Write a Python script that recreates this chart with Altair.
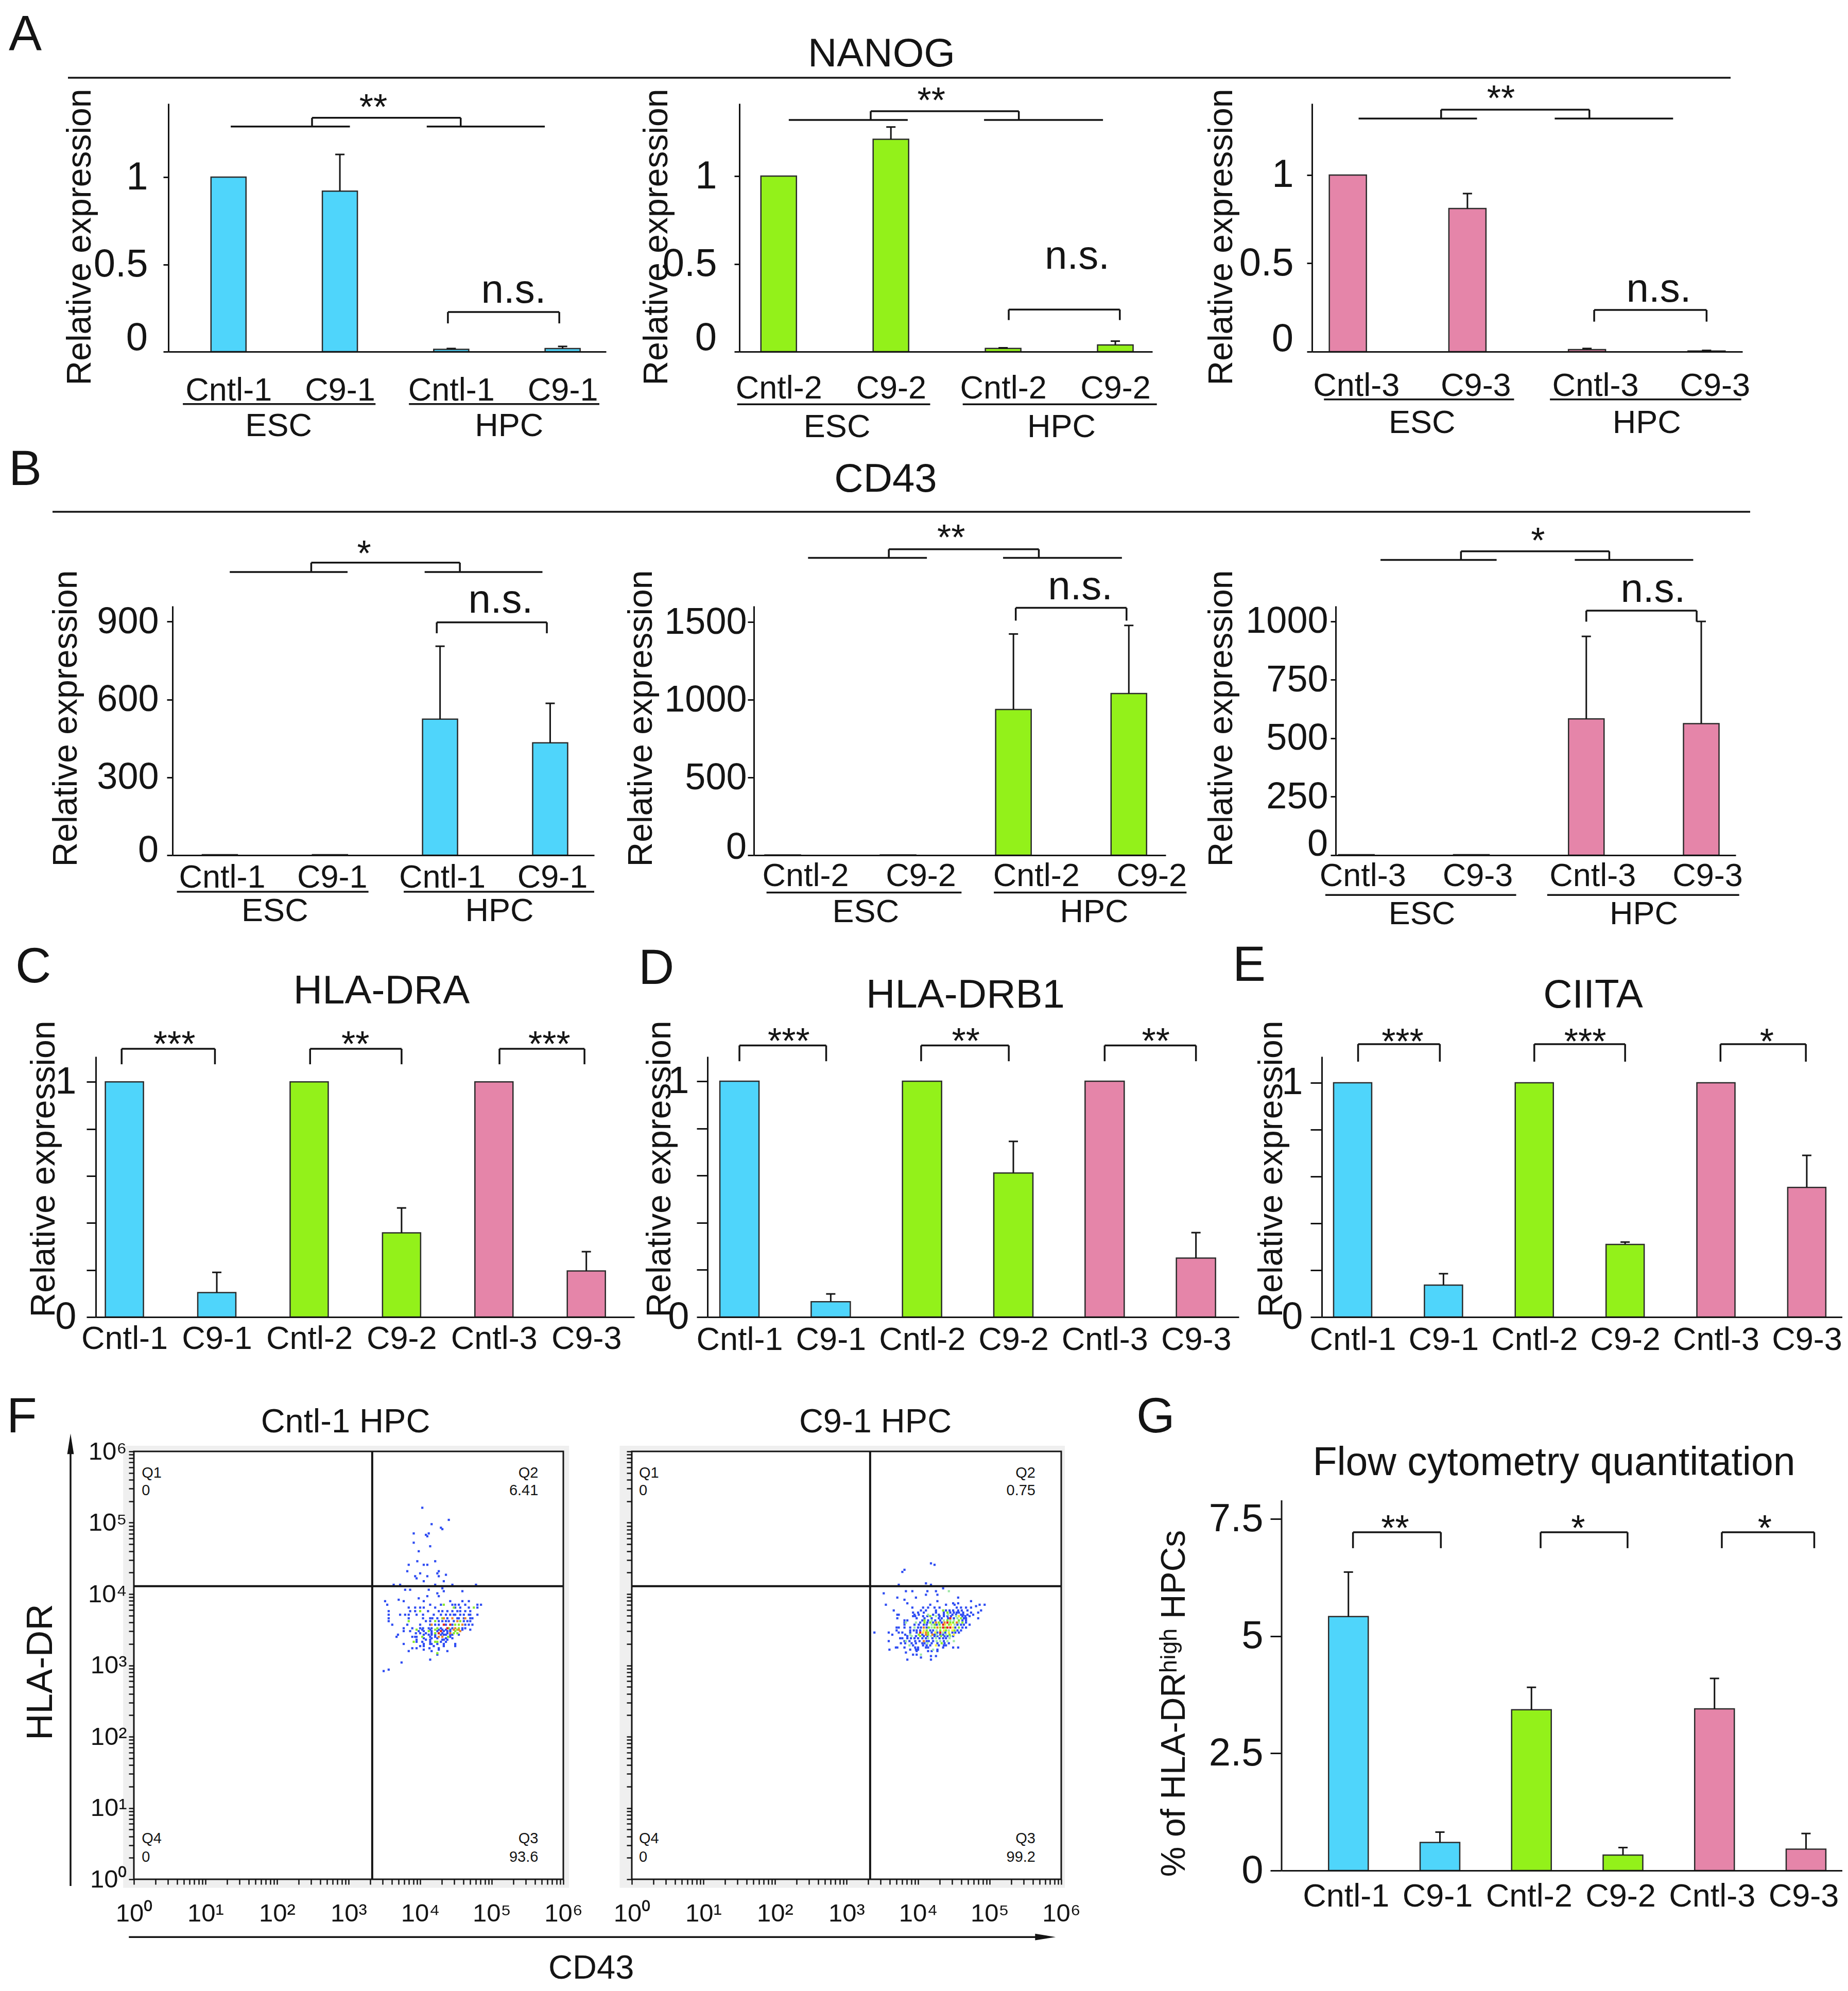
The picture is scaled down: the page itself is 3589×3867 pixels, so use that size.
import math
import altair as alt
import pandas as pd

FONT = "Liberation Sans, Arial, Helvetica, sans-serif"
INK = "#141414"
BLUE, GREEN, PINK = "#4fd5fb", "#93f11a", "#e585a9"

# ---------------- category labels ----------------
LAB_1 = ["Cntl-1", "C9-1", "Cntl-1", "C9-1"]
LAB_2 = ["Cntl-2", "C9-2", "Cntl-2", "C9-2"]
LAB_3 = ["Cntl-3", "C9-3", "Cntl-3", "C9-3"]
LAB_6 = ["Cntl-1", "C9-1", "Cntl-2", "C9-2", "Cntl-3", "C9-3"]

# ---------------- A: NANOG (relative expression) ----------------
NANOG_1 = [1.0, 0.92, 0.013, 0.018]
NANOG_1_ERR = [0.0, 0.21, 0.005, 0.012]
NANOG_2 = [1.0, 1.21, 0.018, 0.038]
NANOG_2_ERR = [0.0, 0.07, 0.004, 0.022]
NANOG_3 = [1.0, 0.81, 0.012, 0.004]
NANOG_3_ERR = [0.0, 0.085, 0.006, 0.003]

# ---------------- B: CD43 (relative expression) ----------------
CD43_1 = [2, 2, 524, 433]
CD43_1_ERR = [0, 0, 281, 152]
CD43_2 = [2, 2, 937, 1040]
CD43_2_ERR = [0, 0, 486, 438]
CD43_3 = [2, 2, 583, 563]
CD43_3_ERR = [0, 0, 353, 437]

# ---------------- C / D / E ----------------
HLA_DRA = [1.0, 0.104, 1.0, 0.358, 1.0, 0.196]
HLA_DRA_ERR = [0, 0.086, 0, 0.106, 0, 0.082]
HLA_DRB1 = [1.0, 0.065, 1.0, 0.611, 1.0, 0.25]
HLA_DRB1_ERR = [0, 0.033, 0, 0.134, 0, 0.108]
CIITA = [1.0, 0.136, 1.0, 0.31, 1.0, 0.553]
CIITA_ERR = [0, 0.049, 0, 0.01, 0, 0.137]

# ---------------- G: % HLA-DR high HPCs ----------------
FLOW_PCT = [5.42, 0.60, 3.43, 0.33, 3.45, 0.455]
FLOW_PCT_ERR = [0.95, 0.22, 0.48, 0.16, 0.65, 0.335]

# ---------------- F: flow cytometry (log10 units) ----------------
CNTL_QUAD = ["0", "6.41", "0", "93.6"]   # Q1, Q2, Q4, Q3
C9_QUAD = ["0", "0.75", "0", "99.2"]
GATE_CD43 = 3.33
GATE_HLADR = 4.11
# rows: (log10 HLA-DR, [log10 CD43 ...], density level per event)
CNTL_EVENTS = [
    (5.21, [4.03], "b"), (5.04, [4.40], "b"), (4.98, [4.16], "b"), (4.93, [4.29], "b"),
    (4.91, [4.31], "b"), (4.85, [3.91, 4.12], "bb"), (4.83, [4.08], "b"), (4.81, [4.10], "b"),
    (4.72, [3.91], "b"), (4.67, [4.14], "b"), (4.60, [3.98], "b"), (4.46, [3.96, 4.21], "bb"),
    (4.41, [3.84, 4.05, 4.10], "bbb"), (4.32, [3.82, 4.26], "bb"), (4.29, [4.00, 4.24], "bb"),
    (4.27, [4.36], "b"), (4.25, [3.93, 4.10, 4.26], "bbb"), (4.22, [3.95], "b"),
    (4.18, [4.05, 4.33], "bb"), (4.13, [3.63, 3.72, 4.21, 4.45, 4.78], "bbbbb"),
    (4.08, [4.31], "b"), (4.06, [3.79, 3.86, 4.12], "bbb"), (4.04, [4.33, 4.59], "bb"),
    (4.01, [4.24], "b"), (3.97, [4.10, 4.26], "bb"), (3.94, [3.98], "b"), (3.92, [3.70], "b"),
    (3.90, [3.51, 3.77, 4.05, 4.42, 4.59, 4.68], "bbbbbb"),
    (3.85, [3.54, 4.14, 4.29, 4.33, 4.45, 4.49, 4.54, 4.63, 4.80, 4.85], "bbbgbbbbbb"),
    (3.81, [3.84, 3.93, 4.00, 4.05, 4.21, 4.47, 4.49, 4.56, 4.68, 4.75, 4.80], "bbbbbgbbbgb"),
    (3.76, [3.56, 3.86, 3.93, 4.00, 4.11, 4.26, 4.31, 4.38, 4.45, 4.52, 4.56, 4.63, 4.70], "bbbgbbbbbbbbb"),
    (3.71, [3.56, 3.72, 3.79, 3.84, 3.95, 4.04, 4.19, 4.29, 4.36, 4.42, 4.47, 4.49, 4.56, 4.61, 4.68, 4.70, 4.80], "bbbbbbbbbbbbbbbbb"),
    (3.66, [3.56, 3.84, 4.04, 4.14, 4.17, 4.24, 4.31, 4.33, 4.38, 4.45, 4.52, 4.54, 4.61, 4.63, 4.70, 4.73], "bbbbbbgobobbbobb"),
    (3.62, [3.56, 3.84, 4.08, 4.14, 4.21, 4.26, 4.31, 4.36, 4.40, 4.47, 4.52, 4.56, 4.61, 4.66, 4.70], "bgbbgbbbbbogbbb"),
    (3.57, [3.61, 3.82, 4.00, 4.14, 4.16, 4.21, 4.26, 4.33, 4.36, 4.42, 4.45, 4.49, 4.54, 4.59, 4.63, 4.68, 4.73], "bbbbobbrbrbggobbb"),
    (3.52, [3.77, 3.89, 4.00, 4.04, 4.12, 4.16, 4.24, 4.29, 4.38, 4.40, 4.45, 4.49, 4.54, 4.59, 4.63], "bbbbbbgbrgbogbb"),
    (3.50, [3.95, 4.03, 4.14, 4.21, 4.26, 4.31, 4.36, 4.42, 4.47, 4.52, 4.54, 4.59, 4.70], "gbbgbbbbogobb"),
    (3.48, [3.77, 3.86, 3.98, 4.05, 4.12, 4.16, 4.24, 4.29, 4.33, 4.38, 4.42, 4.49, 4.56], "bbbbgbbrbbbgo"),
    (3.45, [3.94, 4.00, 4.08, 4.16, 4.21, 4.26, 4.31, 4.38, 4.42, 4.47, 4.52], "bbbbgrbbogg"),
    (3.43, [3.69, 4.05, 4.12, 4.16, 4.21, 4.29, 4.33, 4.36, 4.42, 4.45, 4.54], "bbbbbbbbbbb"),
    (3.40, [3.67, 3.89, 3.93, 3.95, 4.03, 4.14, 4.21, 4.26, 4.31, 4.39, 4.42], "bbbbgbboogb"),
    (3.38, [4.05, 4.16, 4.24, 4.36, 4.45], "bbbbb"),
    (3.36, [3.95, 4.08, 4.14, 4.31, 4.33, 4.38], "bbbbbb"),
    (3.33, [3.91, 3.95, 4.03, 4.14, 4.21, 4.24, 4.29, 4.36], "gbbbggbb"),
    (3.30, [3.77, 4.05, 4.14, 4.16, 4.24, 4.33, 4.49], "bbbbbbb"),
    (3.27, [4.00, 4.05, 4.19, 4.33, 4.49], "bbbbb"),
    (3.24, [3.89, 3.95, 4.13, 4.26], "bbbb"), (3.22, [4.05, 4.26], "bb"),
    (3.20, [3.84, 4.16, 4.38], "bbb"), (3.17, [4.24], "g"), (3.15, [4.24], "b"),
    (3.08, [4.14], "b"), (3.04, [3.74], "b"), (2.94, [3.56], "b"), (2.92, [3.49], "b"),
]
C9_EVENTS = [
    (4.43, [4.18], "b"), (4.41, [4.23], "b"), (4.34, [3.81], "b"), (4.31, [3.78], "b"),
    (4.15, [4.11], "b"), (4.13, [3.73, 4.18], "bb"), (4.08, [4.35], "b"),
    (4.04, [3.83, 3.92, 4.13, 4.25, 4.43], "bbbbm"), (4.01, [3.52], "b"),
    (3.99, [4.11, 4.27], "bb"), (3.95, [3.71, 3.97, 4.56], "bbb"), (3.92, [3.81], "b"),
    (3.90, [4.27, 4.74], "bb"), (3.87, [3.85, 4.49, 4.56], "bbb"),
    (3.85, [3.55, 4.17, 4.39, 4.51, 4.86, 4.93], "bbbbbb"), (3.83, [4.81], "b"),
    (3.81, [3.92, 4.07, 4.14, 4.23, 4.30, 4.54, 4.60, 4.67, 4.74], "bbbbbbbbb"),
    (3.77, [3.66, 4.04, 4.11, 4.25, 4.35, 4.39, 4.44, 4.49, 4.56, 4.61, 4.69, 4.88], "bbbbgbbbbbbb"),
    (3.74, [3.93, 4.00, 4.08, 4.25, 4.36, 4.41, 4.45, 4.50, 4.54, 4.57, 4.63, 4.74, 4.84], "bbbbbgbbbbbbb"),
    (3.71, [3.71, 3.73, 3.95, 4.01, 4.14, 4.21, 4.29, 4.36, 4.42, 4.48, 4.53, 4.60, 4.63, 4.69, 4.77], "bbbbmbbbmbbbbbb"),
    (3.69, [3.93, 3.96, 4.07, 4.13, 4.17, 4.25, 4.30, 4.36, 4.41, 4.46, 4.53, 4.57, 4.62, 4.66, 4.72], "bbbbgmbbbbmybbb"),
    (3.66, [3.71, 3.98, 4.09, 4.19, 4.29, 4.33, 4.42, 4.45, 4.50, 4.55, 4.60, 4.64, 4.67, 4.84], "bbbbbbbrbmgbbb"),
    (3.63, [3.81, 3.85, 4.06, 4.09, 4.14, 4.19, 4.24, 4.31, 4.36, 4.41, 4.45, 4.50, 4.57, 4.62, 4.67], "bbbgbmbbmgmmgbb"),
    (3.60, [3.81, 3.83, 3.97, 4.03, 4.09, 4.13, 4.17, 4.21, 4.25, 4.29, 4.33, 4.37, 4.41, 4.45, 4.49, 4.54, 4.57, 4.62, 4.67], "bmmbgbgbogborggomgb"),
    (3.57, [3.81, 3.95, 4.01, 4.08, 4.12, 4.19, 4.23, 4.26, 4.30, 4.35, 4.38, 4.43, 4.46, 4.51, 4.55, 4.60, 4.64, 4.72], "bbbbbmgbgrygymbbbb"),
    (3.53, [3.70, 3.73, 3.81, 3.89, 3.95, 4.00, 4.04, 4.08, 4.12, 4.15, 4.19, 4.23, 4.27, 4.31, 4.35, 4.38, 4.41, 4.45, 4.49, 4.52, 4.57, 4.62, 4.67], "bbbbmbbobgmgogrgrrybgbb"),
    (3.49, [3.70, 3.89, 3.94, 3.98, 4.03, 4.08, 4.12, 4.17, 4.21, 4.26, 4.31, 4.36, 4.39, 4.43, 4.48, 4.51, 4.55, 4.60], "bbbbbygbbmgygmygbb"),
    (3.46, [3.39, 3.59, 3.73, 3.78, 3.89, 3.98, 4.03, 4.07, 4.11, 4.14, 4.19, 4.24, 4.27, 4.31, 4.35, 4.38, 4.43, 4.48, 4.52, 4.57], "bbbbbbryogbybrmbybbb"),
    (3.43, [3.64, 3.82, 3.89, 4.01, 4.06, 4.11, 4.14, 4.20, 4.23, 4.26, 4.31, 4.35, 4.39, 4.44, 4.50], "bbmgbogobmbbmgy"),
    (3.41, [3.85, 3.91, 3.97, 4.03, 4.08, 4.13, 4.18, 4.23, 4.27, 4.32, 4.37, 4.41, 4.45, 4.49], "bmbgbbmbbgbbmb"),
    (3.38, [3.75, 3.78, 3.85, 3.90, 3.95, 4.00, 4.06, 4.11, 4.14, 4.20, 4.25, 4.30, 4.35, 4.39, 4.44], "bbbbbbbbmbmbbbm"),
    (3.34, [3.59, 3.81, 3.83, 3.88, 3.96, 4.02, 4.08, 4.12, 4.15, 4.21, 4.26, 4.31, 4.36, 4.41, 4.50], "bbmbbbobbbmmbmm"),
    (3.31, [3.76, 3.82, 3.91, 3.97, 4.06, 4.09, 4.13, 4.19, 4.27, 4.33, 4.37, 4.43], "bbbbbbmbbgbb"),
    (3.28, [3.88, 3.93, 4.07, 4.12, 4.17, 4.25, 4.29, 4.36, 4.39], "mbbbbybbb"),
    (3.25, [3.69, 3.71, 3.81, 3.96, 4.00, 4.11, 4.14, 4.35, 4.49, 4.56], "bbbbbbbbbb"),
    (3.22, [3.60, 3.89, 3.97, 4.00, 4.21, 4.27], "bbbbmb"),
    (3.20, [3.98, 4.14, 4.19, 4.27], "bbbb"), (3.18, [3.83], "b"),
    (3.15, [3.93, 3.98, 4.04], "bbm"), (3.13, [4.18, 4.25], "bb"), (3.11, [4.04], "b"),
    (3.08, [3.85, 4.18], "bb"),
]
LEVELS = ["b", "m", "g", "y", "o", "r"]
LEVEL_COLORS = ["#2f4df3", "#9de6a6", "#86e82b", "#f3ee3a", "#e8842c", "#e3241f"]

ONE = pd.DataFrame({"t": [""]})

# grid geometry: three columns of equal cell width; each panel's plot is placed
# inside its cell through an explicit scale range starting at L.
COL_X = [0, 1200, 2400]
CELL_W = [1200, 1200, 1150]
SHIFT = 8


def place(P, left, col):
    P["L"] = left - SHIFT - COL_X[col]
    P["cw"] = CELL_W[col]
    return P


# ---------------- helpers ----------------
def bracket(x1, x2, ytop, ydrop):
    return [(x1, x2, ytop, ytop), (x1, x1, ydrop, ytop), (x2, x2, ydrop, ytop)]


def group_brackets(esc, hpc, y_line, con, y_con):
    segs = [(esc[0], esc[1], y_line, y_line), (hpc[0], hpc[1], y_line, y_line)]
    return segs + bracket(con[0], con[1], y_con, y_line)


def pixel_layers(P):
    L = P["L"]
    out = []
    for px, py, text, size, align in P.get("ptexts", []):
        out.append(alt.Chart(pd.DataFrame({"t": [text]})).mark_text(
            font=FONT, fontSize=size, color=INK, align=align, baseline="alphabetic"
        ).encode(x=alt.value(L + px), y=alt.value(py), text="t:N"))
    for px1, px2, py in P.get("plines", []):
        out.append(alt.Chart(ONE).mark_rule(color=INK, strokeWidth=3.5).encode(
            x=alt.value(L + px1), x2=alt.value(L + px2), y=alt.value(py)))
    return out


def spacer(w, h):
    return alt.Chart(pd.DataFrame({"s": [0]})).mark_point(opacity=0).encode(
        x=alt.X("s:Q", axis=None), y=alt.Y("s:Q", axis=None)
    ).properties(width=w, height=h)


def bar_panel(P):
    n = len(P["values"])
    L = P["L"]
    step = P["w"] / (P["xdom"][1] - P["xdom"][0])
    half = P["bar_px"] / 2 / step
    cap = 9 / step
    pos = list(range(n))
    bars = pd.DataFrame({
        "pos": pos,
        "x0": [i - half for i in pos],
        "x1": [i + half for i in pos],
        "zero": [0] * n,
        "value": P["values"],
        "top": [v + e for v, e in zip(P["values"], P["errs"])],
        "err": P["errs"],
        "fill": P["colors"],
        "c0": [i - cap for i in pos],
        "c1": [i + cap for i in pos],
    })
    xs = alt.Scale(domain=P["xdom"], range=[L, L + P["w"]], nice=False, zero=False)
    ys = alt.Scale(domain=P["ydom"], nice=False, zero=False)
    lab = "[" + ",".join("'%s'" % s for s in P["labels"]) + "][datum.value]"
    xaxis = alt.Axis(values=pos, labelExpr=lab, title=None, grid=False, ticks=False,
                     domainColor=INK, domainWidth=3, labelFont=FONT, labelFontSize=63,
                     labelColor=INK, labelPadding=P["xpad"], labelBaseline="middle",
                     labelFlush=False, labelOverlap=False, labelOffset=P.get("xoff", 0),
                     zindex=1)
    zero_shift = P.get("zero_shift")
    if "ylabexpr" in P:
        ylab = P["ylabexpr"]
    elif zero_shift is not None:
        ylab = "datum.value == 0 ? '' : '' + datum.value"
    else:
        ylab = "'' + datum.value"
    ykw = dict(values=P["yticks"], grid=False, domain=P.get("ydomain_line", True),
               domainColor=INK, domainWidth=3, tickColor=INK, tickWidth=3,
               tickSize=P["tick"], labelFont=FONT, labelFontSize=P["yfs"], labelColor=INK,
               labelPadding=P["ypad"], labelOverlap=False, labelFlush=False,
               title=P.get("ytitle", "Relative expression"), titleFont=FONT,
               titleFontSize=66, titleFontWeight="normal", titleColor=INK, titleAngle=270,
               titleAlign="center", titleBaseline="middle", titleX=P["tx"], titleY=P["ty"],
               offset=-L, zindex=1, labelExpr=ylab)
    yaxis = alt.Axis(**ykw)

    def X(f):
        return alt.X(f + ":Q", scale=xs, axis=xaxis)

    def Y(f):
        return alt.Y(f + ":Q", scale=ys, axis=yaxis)

    layers = [alt.Chart(bars).mark_rect(stroke="#2b2b2b", strokeWidth=2.5).encode(
        x=X("x0"), x2="x1", y=Y("value"), y2="zero", fill=alt.Fill("fill:N", scale=None))]
    eb = bars[bars["err"] > 0]
    layers.append(alt.Chart(eb).mark_rule(color=INK, strokeWidth=3).encode(
        x=X("pos"), y=Y("value"), y2="top"))
    layers.append(alt.Chart(eb).mark_rule(color=INK, strokeWidth=3).encode(
        x=X("c0"), x2="c1", y=Y("top")))
    if "axis_top" in P:
        ax = pd.DataFrame({"x": [P["xdom"][0]], "y": [0], "y2": [P["axis_top"]]})
        layers.append(alt.Chart(ax).mark_rule(color=INK, strokeWidth=3).encode(
            x=X("x"), y=Y("y"), y2="y2"))
    if zero_shift is not None:
        z = pd.DataFrame({"x": [P["xdom"][0]], "y": [0], "t": ["0"]})
        layers.append(alt.Chart(z).mark_text(
            font=FONT, fontSize=P["yfs"], color=INK, align="right", baseline="middle",
            dx=-(P["tick"] + P["ypad"]), dy=zero_shift).encode(x=X("x"), y=Y("y"), text="t:N"))
    segs = pd.DataFrame(P["segs"], columns=["x", "x2", "y", "y2"])
    layers.append(alt.Chart(segs).mark_rule(color=INK, strokeWidth=3.5).encode(
        x=X("x"), x2="x2", y=Y("y"), y2="y2"))
    st = pd.DataFrame(P["stars"], columns=["x", "y", "t"])
    layers.append(alt.Chart(st).mark_text(font=FONT, fontSize=70, color=INK,
                                          baseline="middle", dy=19).encode(
        x=X("x"), y=Y("y"), text="t:N"))
    if P.get("ns"):
        ns = pd.DataFrame(P["ns"], columns=["x", "y"])
        ns["t"] = "n.s."
        layers.append(alt.Chart(ns).mark_text(font=FONT, fontSize=78, color=INK,
                                              baseline="middle", dy=-3).encode(
            x=X("x"), y=Y("y"), text="t:N"))
    if P.get("under"):
        ul = pd.DataFrame(P["under"], columns=["x", "x2", "y"])
        layers.append(alt.Chart(ul).mark_rule(color=INK, strokeWidth=3.5).encode(
            x=X("x"), x2="x2", y=Y("y")))
        gl = pd.DataFrame(P["groups"], columns=["x", "y", "t"])
        layers.append(alt.Chart(gl).mark_text(font=FONT, fontSize=63, color=INK,
                                              baseline="middle", dy=4).encode(
            x=X("x"), y=Y("y"), text="t:N"))
    layers += pixel_layers(P)
    return alt.layer(*layers).properties(width=P["cw"], height=P["h"])


LOG_TICKS = sorted(set(round(k + math.log10(m), 4) for k in range(6) for m in range(1, 10)) | {6.0})
SUP_EXPR = ("datum.value % 1 == 0 ? '10' + ['\u2070','\u00b9','\u00b2','\u00b3','\u2074','\u2075','\u2076']"
            "[datum.value] : ''")


def flow_panel(P):
    L = P["L"]
    recs = []
    for hl, xs_, lv in P["events"]:
        for x, l in zip(xs_, lv):
            recs.append({"cd43": x, "hladr": hl, "level": l})
    ev = pd.DataFrame(recs)
    ev["rank"] = ev["level"].map({k: i for i, k in enumerate(LEVELS)})
    ev = ev.sort_values("rank", kind="stable")

    xs = alt.Scale(domain=[0, 6], range=[L, L + P["w"]], nice=False, zero=False)
    ys = alt.Scale(domain=[0, 6], nice=False, zero=False)
    common = dict(values=LOG_TICKS, labelExpr=SUP_EXPR, grid=False, domain=False,
                  tickSize=10, tickWidth=2.5, tickColor=INK, labelFont=FONT,
                  labelFontSize=49, labelColor=INK, labelOverlap=False,
                  labelFlush=False, zindex=1)
    xaxis = alt.Axis(labelPadding=56, labelBaseline="middle", title=None, **common)
    if P["ylabels"]:
        yaxis = alt.Axis(labelPadding=4, title="HLA-DR", titleFont=FONT, titleFontSize=71,
                         titleFontWeight="normal", titleColor=INK, titleAngle=270,
                         titleAlign="center", titleBaseline="middle", titleX=-181,
                         titleY=428, offset=-L, **common)
    else:
        yaxis = alt.Axis(labels=False, title=None, offset=-L, **common)

    def X(f):
        return alt.X(f + ":Q", scale=xs, axis=xaxis)

    def Y(f):
        return alt.Y(f + ":Q", scale=ys, axis=yaxis)

    fx0, fx1, fy0, fy1 = P["frame"]
    layers = [
        alt.Chart(pd.DataFrame({"x": [fx0], "x2": [fx1], "y": [fy0], "y2": [fy1]}))
        .mark_rect(color="#efefef").encode(x=X("x"), x2="x2", y=Y("y"), y2="y2"),
        alt.Chart(pd.DataFrame({"x": [0], "x2": [6], "y": [0], "y2": [6]}))
        .mark_rect(fill="white", stroke=INK, strokeWidth=3).encode(x=X("x"), x2="x2", y=Y("y"), y2="y2"),
        alt.Chart(ev).mark_square(size=18, opacity=1).encode(
            x=X("cd43"), y=Y("hladr"),
            color=alt.Color("level:N", scale=alt.Scale(domain=LEVELS, range=LEVEL_COLORS), legend=None)),
        alt.Chart(pd.DataFrame({"x": [GATE_CD43], "y": [0], "y2": [6]}))
        .mark_rule(color=INK, strokeWidth=4).encode(x=X("x"), y=Y("y"), y2="y2"),
        alt.Chart(pd.DataFrame({"x": [0], "x2": [6], "y": [GATE_HLADR]}))
        .mark_rule(color=INK, strokeWidth=4).encode(x=X("x"), x2="x2", y=Y("y")),
    ]
    qa, qb = P["qx"]
    q = P["quad"]
    left = pd.DataFrame({"x": [qa, qa, qa, qa], "y": [5.70, 5.45, 0.57, 0.31],
                         "t": ["Q1", q[0], "Q4", q[2]]})
    right = pd.DataFrame({"x": [qb, qb, qb, qb], "y": [5.70, 5.45, 0.57, 0.31],
                          "t": ["Q2", q[1], "Q3", q[3]]})
    layers.append(alt.Chart(left).mark_text(font=FONT, fontSize=29, color=INK, align="left",
                                            baseline="middle").encode(x=X("x"), y=Y("y"), text="t:N"))
    layers.append(alt.Chart(right).mark_text(font=FONT, fontSize=29, color=INK, align="right",
                                             baseline="middle").encode(x=X("x"), y=Y("y"), text="t:N"))
    if P.get("arrows"):
        layers.append(alt.Chart(pd.DataFrame({"x": [-0.885], "y": [-0.094], "y2": [6.11]}))
                      .mark_rule(color=INK, strokeWidth=3.5).encode(x=X("x"), y=Y("y"), y2="y2"))
        layers.append(alt.Chart(pd.DataFrame({"x": [-0.885], "y": [6.106]}))
                      .mark_point(shape="M0,-1L-0.32,1L0.32,1Z", size=1600, filled=True,
                                  color=INK, opacity=1).encode(x=X("x"), y=Y("y")))
        layers.append(alt.Chart(pd.DataFrame({"x": [-0.07], "x2": [12.74], "y": [-0.81]}))
                      .mark_rule(color=INK, strokeWidth=3.5).encode(x=X("x"), x2="x2", y=Y("y")))
        layers.append(alt.Chart(pd.DataFrame({"x": [12.736], "y": [-0.81]}))
                      .mark_point(shape="M1,0L-1,-0.32L-1,0.32Z", size=1600, filled=True,
                                  color=INK, opacity=1).encode(x=X("x"), y=Y("y")))
        layers.append(alt.Chart(pd.DataFrame({"x": [6.39], "y": [-1.22], "t": ["CD43"]}))
                      .mark_text(font=FONT, fontSize=65, color=INK, baseline="middle", dy=4)
                      .encode(x=X("x"), y=Y("y"), text="t:N"))
    layers += pixel_layers(P)
    return alt.layer(*layers).properties(width=P["cw"], height=P["h"])


# ---------------- panel definitions ----------------
ONE_ZERO = "datum.value == 0 ? '0' : (datum.value == 1 ? '1' : '')"
SIX = [BLUE, BLUE, GREEN, GREEN, PINK, PINK]

A1 = place(dict(w=850, h=482, xdom=[-0.54, 3.39], ydom=[0, 1.422], labels=LAB_1, values=NANOG_1,
          errs=NANOG_1_ERR, colors=[BLUE] * 4, bar_px=68, yticks=[0, 0.5, 1], yfs=76, tick=10,
          ypad=30, tx=-172, ty=259, xpad=75, zero_shift=-26,
          segs=group_brackets((0.02, 1.09), (1.78, 2.84), 1.29, (0.75, 2.085), 1.34) + bracket(1.97, 2.97, 0.227, 0.162),
          stars=[(1.30, 1.45, "**")], ns=[(2.56, 0.34)],
          under=[(-0.41, 1.32, -0.30), (1.62, 3.33, -0.30)],
          groups=[(0.45, -0.416, "ESC"), (2.52, -0.416, "HPC")],
          ptexts=[(-310, -104, "A", 96, "left")]), 321, 0)
A2 = place(dict(w=802, h=482, xdom=[-0.35, 3.33], ydom=[0, 1.414], labels=LAB_2, values=NANOG_2,
          errs=NANOG_2_ERR, colors=[GREEN] * 4, bar_px=69, yticks=[0, 0.5, 1], yfs=76, tick=10,
          ypad=34, tx=-161, ty=259, xpad=71, zero_shift=-26,
          segs=group_brackets((0.09, 1.15), (1.83, 2.89), 1.32, (0.82, 2.14), 1.37) + bracket(2.05, 3.04, 0.24, 0.18),
          stars=[(1.36, 1.48, "**")], ns=[(2.66, 0.53)],
          under=[(-0.37, 1.35, -0.30), (1.64, 3.37, -0.30)],
          groups=[(0.52, -0.42, "ESC"), (2.52, -0.42, "HPC")],
          ptexts=[(276, -72, "NANOG", 78, "center")], plines=[(-1304, 1925, -50)]), 1430, 1)
A3 = place(dict(w=836, h=482, xdom=[-0.30, 3.30], ydom=[0, 1.405], labels=LAB_3, values=NANOG_3,
          errs=NANOG_3_ERR, colors=[PINK] * 4, bar_px=72, yticks=[0, 0.5, 1], yfs=76, tick=10,
          ypad=26, tx=-176, ty=259, xpad=66, xoff=16, zero_shift=-24,
          segs=group_brackets((0.09, 1.08), (1.73, 2.72), 1.32, (0.78, 2.02), 1.37) + bracket(2.06, 3.0, 0.236, 0.17),
          stars=[(1.28, 1.48, "**")], ns=[(2.6, 0.34)],
          under=[(-0.2, 1.39, -0.27), (1.69, 3.29, -0.27)],
          groups=[(0.62, -0.394, "ESC"), (2.5, -0.394, "HPC")]), 2542, 2)
B1 = place(dict(w=819, h=484, xdom=[-0.43, 3.40], ydom=[0, 960], labels=LAB_1, values=CD43_1,
          errs=CD43_1_ERR, colors=[BLUE] * 4, bar_px=68, yticks=[0, 300, 600, 900], yfs=72,
          tick=11, ypad=16, tx=-207, ty=218, xpad=43, xoff=4, zero_shift=-9,
          segs=group_brackets((0.09, 1.16), (1.86, 2.93), 1091, (0.83, 2.18), 1127) + bracket(1.97, 2.97, 897, 855),
          stars=[(1.31, 1194, "*")], ns=[(2.55, 974)],
          under=[(-0.39, 1.35, -141), (1.67, 3.4, -141)],
          groups=[(0.5, -208, "ESC"), (2.54, -208, "HPC")],
          ptexts=[(-318, -235, "B", 96, "left")]), 329, 0)
B2 = place(dict(w=800, h=484, xdom=[-0.25, 3.32], ydom=[0, 1603], labels=LAB_2, values=CD43_2,
          errs=CD43_2_ERR, colors=[GREEN] * 4, bar_px=69, yticks=[0, 500, 1000, 1500], yfs=72,
          tick=12, ypad=2, tx=-219, ty=218, xpad=40, xoff=44, zero_shift=-15,
          segs=group_brackets((0.22, 1.25), (1.91, 2.94), 1913, (0.92, 2.22), 1968) + bracket(2.02, 2.98, 1591, 1509),
          stars=[(1.46, 2096, "**")], ns=[(2.58, 1711)],
          under=[(-0.14, 1.55, -240), (1.83, 3.5, -240)],
          groups=[(0.72, -353, "ESC"), (2.7, -353, "HPC")],
          ptexts=[(256, -222, "CD43", 78, "center")], plines=[(-1362, 1935, -183)]), 1458, 1)
B3 = place(dict(w=777, h=484, xdom=[-0.18, 3.30], ydom=[0, 1066], labels=LAB_3, values=CD43_3,
          errs=CD43_3_ERR, colors=[PINK] * 4, bar_px=69, yticks=[0, 250, 500, 750, 1000], yfs=72,
          tick=10, ypad=5, tx=-222, ty=218, xpad=40, xoff=12, zero_shift=-21,
          segs=group_brackets((0.21, 1.22), (1.9, 2.93), 1263, (0.91, 2.2), 1300) + bracket(2.0, 2.96, 1046, 999),
          stars=[(1.58, 1382, "*")], ns=[(2.58, 1128)],
          under=[(-0.27, 1.39, -170), (1.66, 3.33, -170)],
          groups=[(0.57, -244, "ESC"), (2.5, -244, "HPC")]), 2588, 2)
C = place(dict(w=1046, h=506, xdom=[-0.31, 5.52], ydom=[0, 1.108], labels=LAB_6, values=HLA_DRA,
         errs=HLA_DRA_ERR, colors=SIX, bar_px=74, yticks=[0, 0.2, 0.4, 0.6, 0.8, 1],
         ylabexpr=ONE_ZERO, yfs=74, tick=18, ypad=20, tx=-101, ty=218, xpad=42,
         segs=bracket(-0.03, 0.98, 1.141, 1.075) + bracket(2.01, 3.0, 1.141, 1.075) + bracket(4.06, 4.98, 1.141, 1.075),
         stars=[(0.54, 1.195, "***"), (2.5, 1.195, "**"), (4.6, 1.195, "***")],
         ptexts=[(-156, -144, "C", 96, "left"), (555, -103, "HLA-DRA", 78, "center")]), 180, 0)
D = place(dict(w=1032, h=506, xdom=[-0.35, 5.47], ydom=[0, 1.105], labels=LAB_6, values=HLA_DRB1,
         errs=HLA_DRB1_ERR, colors=SIX, bar_px=76, yticks=[0, 0.2, 0.4, 0.6, 0.8, 1],
         ylabexpr=ONE_ZERO, yfs=74, tick=21, ypad=15, tx=-93, ty=218, xpad=44,
         segs=bracket(0.0, 0.95, 1.152, 1.085) + bracket(1.99, 2.95, 1.152, 1.085) + bracket(4.0, 5.0, 1.152, 1.085),
         stars=[(0.54, 1.205, "***"), (2.48, 1.205, "**"), (4.56, 1.205, "**")],
         ptexts=[(-134, -141, "D", 96, "left"), (501, -95, "HLA-DRB1", 78, "center")]), 1368, 1)
E = place(dict(w=1016, h=506, xdom=[-0.34, 5.42], ydom=[0, 1.112], labels=LAB_6, values=CIITA,
         errs=CIITA_ERR, colors=SIX, bar_px=74, yticks=[0, 0.2, 0.4, 0.6, 0.8, 1],
         ylabexpr=ONE_ZERO, yfs=74, tick=22, ypad=15, tx=-98, ty=218, xpad=44,
         segs=bracket(0.06, 0.96, 1.165, 1.09) + bracket(2.0, 3.0, 1.165, 1.09) + bracket(4.05, 4.99, 1.165, 1.09),
         stars=[(0.55, 1.21, "***"), (2.56, 1.21, "***"), (4.56, 1.21, "*")],
         ptexts=[(-173, -147, "E", 96, "left"), (527, -95, "CIITA", 78, "center")]), 2561, 2)
G = place(dict(w=1102, h=814, xdom=[-0.73, 5.47], ydom=[0, 8.945], labels=LAB_6, values=FLOW_PCT,
         errs=FLOW_PCT_ERR, colors=SIX, bar_px=77, yticks=[0, 2.5, 5, 7.5], yfs=76, tick=22,
         ypad=14, tx=-209, ty=489, xpad=50, xoff=-5,
         ytitle="% of HLA-DR\u02b0\u2071\u1d4d\u02b0 HPCs", ydomain_line=False, axis_top=7.9,
         segs=bracket(0.05, 1.01, 7.22, 6.88) + bracket(2.1, 3.05, 7.22, 6.88) + bracket(4.08, 5.09, 7.22, 6.88),
         stars=[(0.51, 7.48, "**"), (2.51, 7.48, "*"), (4.55, 7.48, "*")],
         ptexts=[(-282, -37, "G", 96, "left"), (529, 46, "Flow cytometry quantitation", 77, "center")]), 2483, 2)
F1 = place(dict(w=834, h=831, events=CNTL_EVENTS, quad=CNTL_QUAD, ylabels=True,
          frame=(-0.15, 6.08, -0.12, 6.08), qx=(0.11, 5.65), arrows=True,
          ptexts=[(-247, -37, "F", 96, "left"), (411, -37, "Cntl-1 HPC", 65, "center")]), 254, 0)
F2 = place(dict(w=834, h=831, events=C9_EVENTS, quad=C9_QUAD, ylabels=False,
          frame=(-0.17, 6.05, -0.12, 6.08), qx=(0.10, 5.64),
          ptexts=[(473, -37, "C9-1 HPC", 65, "center")]), 1221, 1)

# ---------------- grid (3 columns) ----------------
cells = []
cells += [bar_panel(A1), bar_panel(A2), bar_panel(A3)]
cells += [spacer(1, 494) for _ in range(3)]
cells += [bar_panel(B1), bar_panel(B2), bar_panel(B3)]
cells += [spacer(1, 391) for _ in range(3)]
cells += [bar_panel(C), bar_panel(D), bar_panel(E)]
cells += [spacer(1, 261) for _ in range(3)]
cells += [flow_panel(F1), flow_panel(F2), bar_panel(G)]

chart = alt.ConcatChart(concat=cells, columns=3, spacing=0, align="each", bounds="flush",
                        padding={"top": 12, "left": 3, "right": 0, "bottom": 0})
chart = chart.configure_view(strokeWidth=0)
chart.save("out.html", embed_options={"renderer": "svg", "actions": False})
